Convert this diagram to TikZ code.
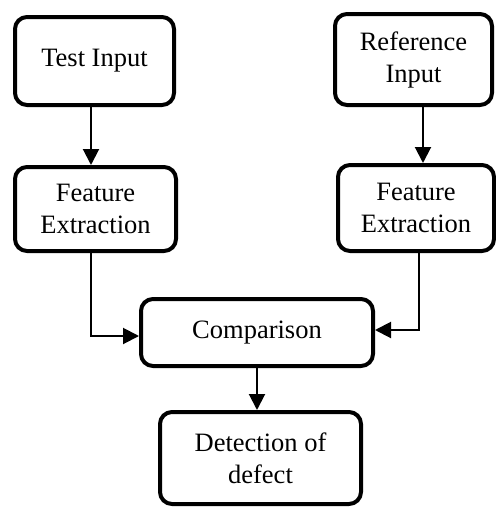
\documentclass[tikz,border=0pt]{standalone}
\usepackage{fontspec}
\setmainfont{Liberation Serif}
\usetikzlibrary{arrows.meta}
\begin{document}
\begin{tikzpicture}[x=1pt,y=-1pt,
  box/.style={draw, line width=4pt, rounded corners=12pt, align=center, inner sep=0pt, outer sep=2pt,
    font=\fontsize{26.5}{32}\selectfont},
  arr/.style={line width=2pt, -{Triangle[length=16pt,width=16pt]}}]
\useasboundingbox (0,0) rectangle (496,507);
% boxes (centre, line-centre dimensions)
\node[box, minimum width=159pt, minimum height=88pt] (A) at (94.5,61) {Test Input};
\node[box, minimum width=157pt, minimum height=91pt] (B) at (413.5,59.5) {Reference\\Input};
\node[box, minimum width=161pt, minimum height=84pt] (C) at (95.5,209) {Feature\\Extraction};
\node[box, minimum width=156pt, minimum height=86pt] (D) at (416,208) {Feature\\Extraction};
\node[box, minimum width=232pt, minimum height=67pt] (E) at (257,332.5) {Comparison};
\node[box, minimum width=201pt, minimum height=92pt] (F) at (260.5,458) {Detection of\\defect};
% connector guides
\coordinate (xl) at (91,0);
\coordinate (xr) at (423,0);
\coordinate (xr2) at (419,0);
\coordinate (yl) at (0,336);
\coordinate (yr) at (0,330);
\coordinate (xm) at (257,0);
\coordinate (pl) at (xl |- yl);
\coordinate (pr) at (xr2 |- yr);
% connectors
\draw[arr] (A.south -| xl) -- (C.north -| xl);
\draw[arr] (B.south -| xr) -- (D.north -| xr);
\draw[arr] (C.south -| xl) -- (pl) -- (E.west |- yl);
\draw[arr] (D.south -| xr2) -- (pr) -- (E.east |- yr);
\draw[arr] (E.south -| xm) -- (F.north -| xm);
\end{tikzpicture}
\end{document}
